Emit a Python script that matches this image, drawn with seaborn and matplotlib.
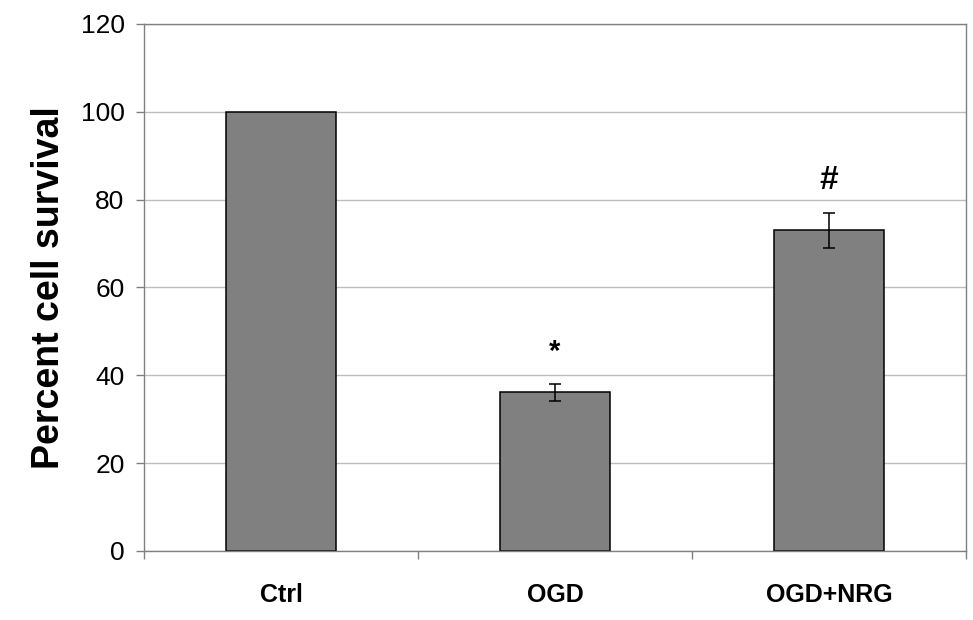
import matplotlib
matplotlib.use("Agg")
import matplotlib.pyplot as plt
import seaborn as sns
import pandas as pd
import numpy as np

categories = ["Ctrl", "OGD", "OGD+NRG"]
survival = [100.0, 36.1, 73.0]
sem = [0.0, 2.0, 4.0]
marks = ["", "*", "#"]
mark_y = [None, 45.3, 84.3]

sns.set_theme(style="white")
plt.rcParams["font.family"] = ["Liberation Sans", "DejaVu Sans"]

df = pd.DataFrame({"group": categories, "survival": survival})

fig = plt.figure(figsize=(9.73, 6.2), dpi=100)
ax = fig.add_axes([0.148, 0.1113, 0.8448, 0.85])

sns.barplot(data=df, x="group", y="survival", color="#808080", saturation=1,
            edgecolor="black", linewidth=1.1, width=0.405, errorbar=None, ax=ax)

xs = np.arange(len(categories))
err_idx = [i for i in range(len(categories)) if sem[i] > 0]
ax.errorbar(xs[err_idx], np.array(survival)[err_idx], yerr=np.array(sem)[err_idx],
            fmt="none", ecolor="black", elinewidth=1.1, capsize=4.5, capthick=1.1, zorder=5)

for i, (m, yy) in enumerate(zip(marks, mark_y)):
    if m:
        fs = 24 if m == "#" else 21
        ax.text(i, yy, m, ha="center", va="center", fontsize=fs, fontweight="bold", color="black")

ax.set_ylim(0, 120)
ax.set_xlim(-0.5, 2.5)
ax.set_yticks([0, 20, 40, 60, 80, 100, 120])
ax.yaxis.grid(True, color="#bdbdbd", linewidth=1.0)
ax.set_axisbelow(True)

for s in ax.spines.values():
    s.set_visible(True)
    s.set_color("#808080")
    s.set_linewidth(1.0)

ax.tick_params(axis="y", which="major", length=6, width=1, color="#808080",
               direction="out", labelsize=19, pad=8, left=True, labelcolor="black")
ax.tick_params(axis="x", which="major", length=0, labelsize=18, pad=23, labelcolor="black")
ax.set_xticks([-0.5, 0.5, 1.5, 2.5], minor=True)
ax.tick_params(axis="x", which="minor", length=6, width=1, color="#808080", direction="out", bottom=True)
for lab in ax.get_xticklabels():
    lab.set_fontweight("bold")

ax.set_xlabel("")
ax.set_ylabel("Percent cell survival", fontsize=27, fontweight="bold", labelpad=10, color="black")

fig.savefig("out.png", dpi=100)
